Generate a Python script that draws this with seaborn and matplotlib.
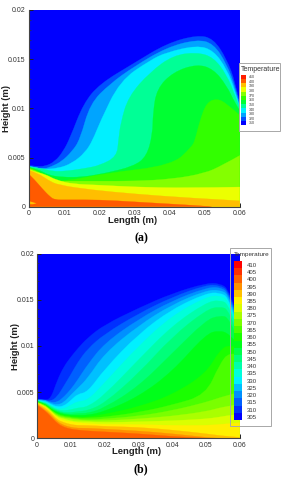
import numpy as np
import matplotlib
matplotlib.use("Agg")
import matplotlib.pyplot as plt
from matplotlib.path import Path
from matplotlib.patches import PathPatch, Rectangle
from matplotlib.colors import ListedColormap, LinearSegmentedColormap
import seaborn as sns

# ---------- panel (a): isotherm outlines ----------
A_COLORS = ["#0050ff", "#00a4ff", "#00f0ff", "#00ff96", "#00ff32", "#32ff00",
            "#84ff00", "#ecff00", "#ffbe00", "#ff5a00"]
A_X = [
    [0, .002, .0046, .0074, .0097, .0117, .0155, .0202, .0297, .0392, .0478, .0525, .0563, .0587, .06],
    [0, .002, .004, .0065, .0093, .0122, .0145, .0174, .0231, .0297, .0392, .0478, .0525, .0563, .0587, .06],
    [0, .002, .004, .0083, .0122, .016, .0182, .0202, .0259, .0345, .0392, .0478, .0525, .0563, .0587, .06],
    [0, .0036, .0065, .0103, .016, .0202, .025, .0255, .0261, .0283, .0345, .0411, .0478, .0525, .0563, .0587, .06],
    [0, .0026, .0056, .0095, .015, .0217, .0297, .0335, .0352, .0353, .0364, .0411, .0478, .0525, .0563, .0587, .06],
    [0, .0026, .006, .0107, .0217, .0407, .0464, .0473, .0487, .0506, .0535, .0563, .06],
    [0, .0024, .0046, .0075, .0107, .0202, .0297, .0407, .0501, .055, .06],
    [0, .002, .0046, .0078, .0125, .02, .03, .045, .06],
    [0, .0026, .0054, .0083, .018, .03, .045, .06],
    [0, .0017, .0036, .006, .0074, .0107, .0202, .0297, .0392, .0487, .052],
]
A_Y = [
    [.0042, .0041, .0041, .0046, .0056, .0070, .0105, .0125, .01455, .0166, .01745, .0171, .015, .0127, .0105],
    [.0041, .0040, .0038, .0041, .0046, .0056, .0068, .0105, .0125, .0142, .0162, .0170, .0166, .0145, .0122, .0103],
    [.0041, .0040, .0038, .0039, .0044, .0055, .0068, .0086, .0128, .0149, .0157, .0164, .0159, .014, .0118, .0101],
    [.00405, .0039, .0036, .0036, .0039, .0042, .0051, .0068, .0085, .0112, .0137, .0154, .0157, .0152, .0134, .0113, .0100],
    [.0040, .0038, .0032, .0030, .0030, .0034, .0041, .0051, .0074, .0095, .012, .0137, .0145, .014, .0123, .0105, .0098],
    [.0040, .0037, .0027, .0026, .0034, .0042, .0061, .0068, .0088, .0106, .0110, .0105, .0093],
    [.0039, .0036, .0031, .0026, .0026, .0026, .0026, .0028, .0034, .0042, .0052],
    [.0038, .0035, .0033, .0027, .0023, .0022, .0020, .0019, .0020],
    [.0037, .0034, .0027, .0022, .0017, .0013, .0009, .0006],
    [.0033, .0027, .0019, .0010, .0007, .0007, .0007, .0005, .0003, .0001, 0],
]
A_SPOT_X = [0, .001, .002]
A_SPOT_LOW = [.0003, .0003, .0004]
A_SPOT_HIGH = [.0006, .0005, .0004]
A_LEGEND_COLORS = ["#ff1e00", "#ff5a00", "#ffbe00", "#ecff00", "#84ff00", "#32ff00",
                   "#00ff32", "#00ff96", "#00f0ff", "#00a4ff", "#0050ff", "#0000ff"]
A_LEGEND_LABELS = ["410", "400", "390", "380", "370", "360", "350", "340", "330", "320", "310"]

# ---------- panel (b): height of each isotherm at fixed stations ----------
B_X = [0, .002, .004, .006, .008, .01, .012, .015, .02, .03, .04, .05, .054, .057, .06]
B_LEVELS = [310, 315, 320, 325, 330, 335, 340, 345, 350, 355, 360, 365, 370, 375, 380, 385, 390, 395, 400]
B_Y = [
    [.0042, .0042, .0042, .0063, .0078, .0088, .0097, .0109, .0123, .0141, .0157, .0168, .0168, .0161, .0125],
    [.0042, .0042, .0040, .0045, .0057, .0069, .0082, .0097, .0113, .0135, .0153, .0166, .0166, .0159, .0122],
    [.0042, .0042, .0039, .0039, .0045, .0053, .0063, .0080, .0103, .0129, .0149, .0163, .0164, .0157, .0119],
    [.0041, .0042, .0038, .0036, .0039, .0047, .0054, .0065, .0092, .0122, .0145, .0160, .0161, .0155, .0116],
    [.0041, .0041, .0037, .0034, .0035, .0041, .0048, .0050, .0075, .0113, .0140, .0157, .0158, .0152, .0113],
    [.0041, .0040, .0036, .0032, .0032, .0036, .0040, .0041, .0060, .0100, .0133, .0153, .0155, .0149, .0110],
    [.0040, .0040, .0035, .0031, .0030, .0031, .0033, .0034, .0047, .0085, .0122, .0147, .0150, .0145, .0108],
    [.0040, .0039, .0034, .0030, .0028, .0028, .0029, .0030, .0038, .0070, .0110, .0139, .0143, .0139, .0105],
    [.0040, .0039, .0033, .0029, .0027, .0026, .0027, .0027, .0033, .0056, .0092, .0128, .0133, .0131, .0102],
    [.0040, .0038, .0032, .0028, .0026, .0025, .0025, .0025, .0029, .0045, .0072, .0113, .0117, .0113, .0100],
    [.0039, .0038, .0032, .0027, .0025, .0024, .0023, .0023, .0026, .0034, .0047, .0070, .0095, .0102, .0097],
    [.0039, .0037, .0031, .0026, .0024, .0023, .0022, .0022, .0023, .0028, .0036, .0047, .0080, .0094, .0090],
    [.0039, .0037, .0031, .0025, .0023, .0022, .0021, .0020, .0021, .0024, .0030, .0039, .0044, .0047, .0050],
    [.0039, .0036, .0030, .0024, .0022, .0021, .0020, .0019, .0019, .0021, .0024, .0029, .0033, .0035, .0037],
    [.0038, .0036, .0030, .0023, .0021, .0019, .0018, .0018, .0017, .0018, .0019, .0021, .0023, .0025, .0026],
    [.0038, .0035, .0029, .0022, .0019, .0018, .0017, .0016, .0015, .0015, .0014, .0014, .0015, .0016, .0017],
    [.0038, .0034, .0028, .0020, .0017, .0015, .0014, .0014, .0013, .0012, .0009, .0005, .0003, .0002, .0001],
    [.0037, .0032, .0026, .0018, .0014, .0012, .0011, .0011, .0010, .0008, .0005, .0001, 0, 0, 0],
    [.0036, .0031, .0024, .0016, .0012, .0010, .0009, .0008, .0007, .0005, .0002, 0, 0, 0, 0],
]
B_LEGEND_LABELS = [410, 405, 400, 395, 390, 385, 380, 375, 370, 365, 360, 355, 350, 345, 340, 335, 330, 325, 320, 315, 310, 305]

X_TICKS = [0, .01, .02, .03, .04, .05, .06]
X_TICK_LABELS = ["0", "0.01", "0.02", "0.03", "0.04", "0.05", "0.06"]
Y_TICKS = [0, .005, .01, .015, .02]
Y_TICK_LABELS = ["0", "0.005", "0.01", "0.015", "0.02"]

# ---------- drawing ----------
sns.set_style("white")
plt.rcParams["font.family"] = ["Liberation Sans", "DejaVu Sans"]
W, H = 286, 480
fig = plt.figure(figsize=(W / 100, H / 100), dpi=100, facecolor="white")
rainbow = LinearSegmentedColormap.from_list(
    "tec", ["#0000ff", "#00ffff", "#00ff00", "#ffff00", "#ff0000"])


def box(x0, y0, x1, y1):
    return [x0 / W, 1 - y1 / H, (x1 - x0) / W, (y1 - y0) / H]


def fill_under(ax, xs, ys, color, zorder):
    """Area under an isotherm, its outline rounded with quadratic curves."""
    verts = [(xs[0], 0), (xs[0], ys[0])]
    codes = [Path.MOVETO, Path.LINETO]
    for i in range(1, len(xs) - 1):
        mid_x = (xs[i] + xs[i + 1]) / 2
        mid_y = (ys[i] + ys[i + 1]) / 2
        if i == len(xs) - 2:
            mid_x, mid_y = xs[-1], ys[-1]
        verts += [(xs[i], ys[i]), (mid_x, mid_y)]
        codes += [Path.CURVE3, Path.CURVE3]
    verts += [(xs[-1], 0), (xs[0], 0)]
    codes += [Path.LINETO, Path.CLOSEPOLY]
    ax.add_patch(PathPatch(Path(verts, codes), facecolor=color, edgecolor=color,
                           linewidth=0.2, zorder=zorder))


def style_axes(ax, rect, ylab_x, xlab_y, pad_x, pad_y):
    ax.set_xlim(0, .06)
    ax.set_ylim(0, .02)
    ax.set_facecolor("#0000ff")
    ax.set_xticks(X_TICKS, X_TICK_LABELS)
    ax.set_yticks(Y_TICKS, Y_TICK_LABELS)
    ax.set_xticks(np.arange(0, .0601, .002), minor=True)
    ax.set_yticks(np.arange(0, .0201, .001), minor=True)
    ax.tick_params(which="major", direction="in", length=3.2, width=0.7, color="#222222",
                   labelsize=5.0, labelcolor="#333333", bottom=True, left=True, zorder=20)
    ax.tick_params(axis="x", which="major", pad=pad_x)
    ax.tick_params(axis="y", which="major", pad=pad_y)
    ax.tick_params(which="minor", direction="in", length=1.7, width=0.5, color="#333333",
                   bottom=True, left=True)
    for side, spine in ax.spines.items():
        spine.set_visible(side in ("left", "bottom"))
        spine.set_color("#444444")
        spine.set_linewidth(0.8)
        spine.set_zorder(25)
    x0, y0, x1, y1 = rect
    ax.set_xlabel("Length (m)", fontsize=6.8, fontweight="bold", color="#222222", va="center")
    ax.set_ylabel("Height (m)", fontsize=6.8, fontweight="bold", color="#222222", va="center")
    ax.xaxis.set_label_coords(((x0 + x1) / 2 - 2 - x0) / (x1 - x0), (y1 - xlab_y) / (y1 - y0))
    ax.yaxis.set_label_coords((ylab_x - x0) / (x1 - x0), 0.5)


def legend_frame(x0, y0, x1, y1):
    fig.add_artist(Rectangle((x0 / W, 1 - y1 / H), (x1 - x0) / W, (y1 - y0) / H,
                             transform=fig.transFigure, fill=False,
                             edgecolor="#a8a8a8", linewidth=0.7, zorder=30))


def legend_text(x, y, s, size, ha="left"):
    fig.text(x / W, 1 - y / H, s, fontsize=size, color="#333333", ha=ha, va="center", zorder=32)


# panel (a)
rect_a = (29, 10, 239.7, 206.7)
ax_a = fig.add_axes(box(*rect_a))
for i, (xs, ys, c) in enumerate(zip(A_X, A_Y, A_COLORS)):
    fill_under(ax_a, xs, ys, c, 2 + i)
ax_a.fill_between(A_SPOT_X, A_SPOT_LOW, A_SPOT_HIGH, color="#ffbe00", linewidth=0, zorder=15)
style_axes(ax_a, rect_a, 6, 220.7, 2.7, 2.7)

legend_frame(239, 63, 280, 130.7)
legend_text(240.7, 69.7, "Temperature", 5.0)
leg_a = fig.add_axes(box(240.7, 74.7, 246, 125.3), zorder=10)
sns.heatmap(np.arange(len(A_LEGEND_COLORS)).reshape(-1, 1), ax=leg_a, cbar=False,
            cmap=ListedColormap(A_LEGEND_COLORS), xticklabels=False, yticklabels=False)
for i, lab in enumerate(A_LEGEND_LABELS):
    legend_text(249, 77 + i * 4.65, lab, 2.6)

# panel (b)
rect_b = (37, 253.7, 239.7, 438.3)
ax_b = fig.add_axes(box(*rect_b))
for i, (lev, ys) in enumerate(zip(B_LEVELS, B_Y)):
    fill_under(ax_b, B_X, ys, rainbow((lev - 305) / 105), 2 + i)
style_axes(ax_b, rect_b, 15.3, 452, 2.4, 2.0)

legend_frame(230, 248.3, 271, 426)
legend_text(234, 254.7, "Temperature", 4.6)
leg_b = fig.add_axes(box(233.7, 261, 242.3, 420), zorder=10)
sns.heatmap(np.array(B_LEGEND_LABELS).reshape(-1, 1), ax=leg_b, cbar=False, cmap=rainbow,
            vmin=305, vmax=410, xticklabels=False, yticklabels=False)
for i, lab in enumerate(B_LEGEND_LABELS):
    legend_text(247, 265.3 + i * 7.24, str(lab), 4.3)

# captions
fig.text(141 / W, 1 - 238 / H, "(a)", fontsize=8.6, fontweight="bold", family="Liberation Serif",
         ha="center", va="center", color="black")
fig.text(141 / W, 1 - 469 / H, "(b)", fontsize=8.6, fontweight="bold", family="Liberation Serif",
         ha="center", va="center", color="black")

fig.savefig("out.png", dpi=100)
